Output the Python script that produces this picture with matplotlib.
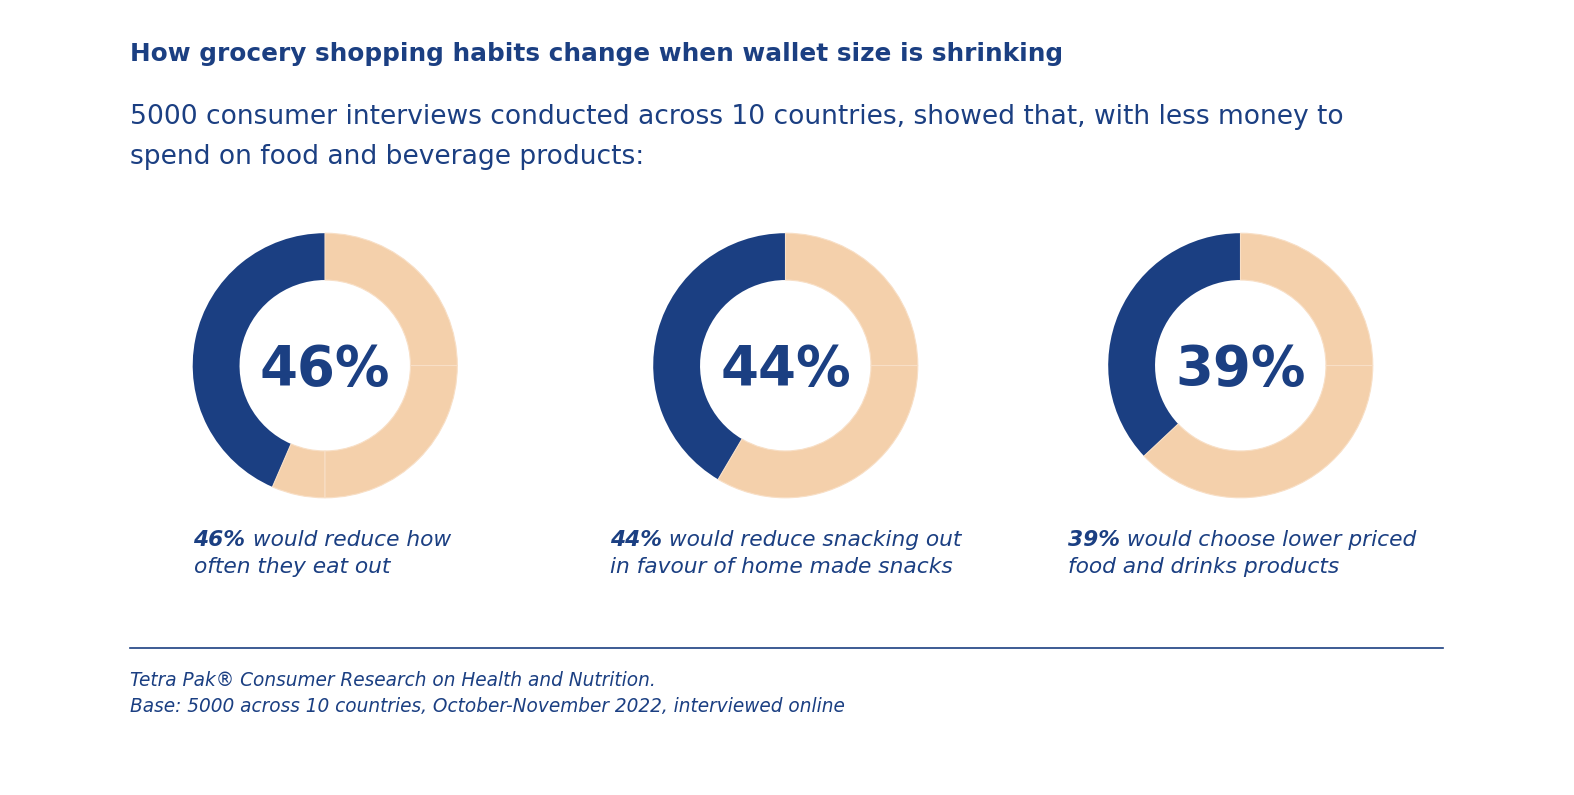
import matplotlib
matplotlib.use("Agg")
import matplotlib.pyplot as plt

W, H = 1574, 795
navy = "#1b3f82"
peach = "#f4d0ab"
seam = "#f8dfc6"
font = "DejaVu Sans"

title = "How grocery shopping habits change when wallet size is shrinking"
subtitle = ["5000 consumer interviews conducted across 10 countries, showed that, with less money to",
            "spend on food and beverage products:"]

# big number in the centre of each ring
big_labels = ["46%", "44%", "39%"]
# navy part of each ring, as it is drawn in the original (%)
navy_share = [43.5, 41.5, 37.0]
# the peach rest is drawn in pieces (counter-clockwise after the navy part)
peach_pieces = [[6.5, 25, 25], [33.5, 25], [38, 25]]

cap_bold = ["46%", "44%", "39%"]
cap_line1 = [" would reduce how", " would reduce snacking out", " would choose lower priced"]
cap_line2 = ["often they eat out", "in favour of home made snacks", "food and drinks products"]

footer = ["Tetra Pak\u00ae Consumer Research on Health and Nutrition.",
          "Base: 5000 across 10 countries, October-November 2022, interviewed online"]

# layout in pixels
ring_cx = [325, 785.5, 1240.5]
ring_cy = 365.5
R = 132.3
cap_x = [193.5, 610.5, 1068]
left = 129.5

fig = plt.figure(figsize=(W / 100, H / 100), dpi=100)
fig.patch.set_facecolor("white")
r = fig.canvas.get_renderer()


def fx(x):
    return x / W


def fy(y):
    return 1 - y / H


def fit(t, width):
    # scale the font so the text spans the same width as in the original
    w = t.get_window_extent(renderer=r).width
    t.set_fontsize(t.get_fontsize() * width / w)
    return t.get_fontsize()


# rings
for i in range(3):
    ax = fig.add_axes([fx(ring_cx[i] - R), fy(ring_cy + R), 2 * R / W, 2 * R / H])
    vals = [navy_share[i]] + peach_pieces[i]
    cols = [navy] + [peach] * len(peach_pieces[i])
    wedges, _ = ax.pie(vals, colors=cols, startangle=90, counterclock=True,
                       radius=1, wedgeprops=dict(width=0.354, linewidth=0))
    for w in wedges[1:]:
        w.set_edgecolor(seam)
        w.set_linewidth(0.8)
    ax.set_xlim(-1, 1)
    ax.set_ylim(-1, 1)
    ax.set_aspect("equal")
    ax.axis("off")
    t = fig.text(fx(ring_cx[i]), fy(385), big_labels[i], ha="center", va="baseline",
                 fontsize=43, fontweight="bold", color=navy, family=font)
    fit(t, 130.5)

# titles
t = fig.text(fx(left), fy(60.5), title, fontsize=19.5, fontweight="bold", color=navy,
             family=font, va="baseline")
fit(t, 932)
t = fig.text(fx(left), fy(124.5), subtitle[0], fontsize=18.5, color=navy, family=font,
             va="baseline")
fs = fit(t, 1223)
fig.text(fx(left), fy(164), subtitle[1], fontsize=fs, color=navy, family=font, va="baseline")

# captions: bold italic number, then italic text
t = fig.text(0, 0, cap_bold[0] + cap_line1[0], fontsize=15.5, style="italic",
             family=font)
cs = fit(t, 254)
t.remove()
for i in range(3):
    t = fig.text(fx(cap_x[i]), fy(545.5), cap_bold[i], fontsize=cs, fontweight="bold",
                 style="italic", color=navy, family=font, va="baseline")
    bb = t.get_window_extent(renderer=r)
    fig.text(bb.x1 / W, fy(545.5), cap_line1[i], fontsize=cs, style="italic",
             color=navy, family=font, va="baseline")
    fig.text(fx(cap_x[i]), fy(573), cap_line2[i], fontsize=cs, style="italic",
             color=navy, family=font, va="baseline")

# rule and footer
fig.add_artist(plt.Line2D([fx(left), fx(1443)], [fy(648), fy(648)], color=navy, lw=1.2))
t = fig.text(fx(left), fy(712.5), footer[1], fontsize=13.5, style="italic", color=navy,
             family=font, va="baseline")
ff = fit(t, 716)
fig.text(fx(left), fy(685.5), footer[0], fontsize=ff, style="italic", color=navy,
         family=font, va="baseline")

fig.savefig("out.png", dpi=100, facecolor="white")
